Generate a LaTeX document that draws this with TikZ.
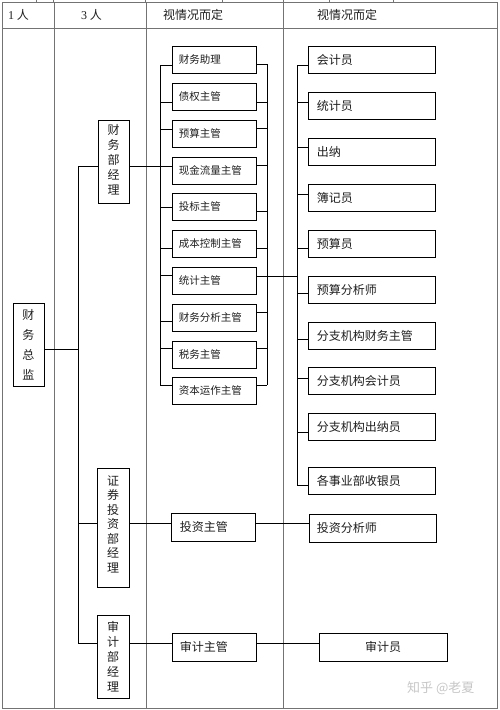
\documentclass[tikz,border=0pt]{standalone}
\usepackage{fontspec}
\setmainfont{Noto Sans CJK SC}
\newfontfamily\serifdigits{Liberation Serif}
\begin{document}
\begin{tikzpicture}[x=1pt,y=-1pt,
  bx/.style={draw=black, line width=0.9pt, inner sep=0pt},
  t3/.style={font=\fontsize{10.5}{12}\selectfont, text=black!88, inner sep=0pt},
  t4/.style={font=\fontsize{12}{14}\selectfont, text=black!88, inner sep=0pt},
  hd/.style={font=\fontsize{12}{14}\selectfont, text=black!88, inner sep=0pt},
  ln/.style={line width=0.8pt, black},
  grid/.style={line width=0.8pt, black!55}]
\useasboundingbox (0,0) rectangle (499,710);
\fill[white] (0,0) rectangle (499,710);

% table
\draw[grid] (2,2) rectangle (497,708);
\draw[grid] (2,28) -- (497,28);
\foreach \x in {54,146,283} \draw[grid] (\x,2) -- (\x,708);
\foreach \x in {36,53,145,222,283,329,393} \draw[grid] (\x,0) -- (\x,2);

% header
\node[hd, anchor=west] (h1) at (8,15) {{\serifdigits 1} 人};
\node[hd, anchor=west] (h2) at (81,15) {{\serifdigits 3} 人};
\node[hd, anchor=west] (h3) at (163,15) {视情况而定};
\node[hd, anchor=west] (h4) at (317,15) {视情况而定};

% trunks
\coordinate (T) at (78,0);
\coordinate (L) at (160,0);
\coordinate (R3) at (267,0);
\coordinate (R4) at (297,0);

% director
\node[bx, minimum width=31pt, minimum height=83pt] (d) at (28.5,344.5) {};
\node[t4, align=center, font=\fontsize{12}{20}\selectfont] (dt) at (d) {财\\务\\总\\监};

% managers
\node[bx, minimum width=31pt, minimum height=83pt] (m1) at (113.5,161.5) {};
\node[t4, align=center, font=\fontsize{12}{15}\selectfont] (m1t) at (113.5,160) {财\\务\\部\\经\\理};
\node[bx, minimum width=32pt, minimum height=119pt] (m2) at (113,527.5) {};
\node[t4, align=center, font=\fontsize{12}{14.5}\selectfont] (m2t) at (113,524) {证\\券\\投\\资\\部\\经\\理};
\node[bx, minimum width=32pt, minimum height=83pt] (m3) at (113,656.5) {};
\node[t4, align=center, font=\fontsize{12}{15}\selectfont] (m3t) at (113,657) {审\\计\\部\\经\\理};

% column 3
\foreach \n/\cy/\txt/\ls/\rs in {
  f1/59.5/财务助理/-5.5/-4.5,
  f2/96.5/债权主管/-5.5/-5.5,
  f3/133.5/预算主管/4.5/5.5,
  f4/170.5/现金流量主管/4.5/5.5,
  f5/206.5/投标主管/-0.5/-4.5,
  f6/243.5/成本控制主管/-4.5/-4.5,
  f7/280.5/统计主管/5.5/4.5,
  f8/317.5/财务分析主管/-3.5/5.5,
  f9/354.5/税务主管/6.5/6.5,
  f10/390.5/资本运作主管/5.5/5.5}{
  \node[bx, minimum width=84pt, minimum height=27pt] (\n) at (214,\cy) {};
  \node[t3, anchor=west] (t\n) at ([xshift=7pt]\n.west) {\txt};
  \coordinate (l\n) at ([yshift=\ls pt]\n.west);
  \coordinate (r\n) at ([yshift=\rs pt]\n.east);
  \draw[ln] (l\n) -- (L |- l\n);
  \draw[ln] (r\n) -- (R3 |- r\n);
}
\draw[ln] (L |- lf1) -- (L |- lf10);
\draw[ln] (R3 |- rf1) -- (R3 |- rf10);

% column 4
\foreach \n/\cy/\txt/\ls in {
  g1/59.5/会计员/-5.5,
  g2/105.5/统计员/3.5,
  g3/151.5/出纳/4.5,
  g4/197.5/簿记员/3.5,
  g5/243.5/预算员/-4.5,
  g6/289.5/预算分析师/-3.5,
  g7/335.5/分支机构财务主管/-3.5,
  g8/380.5/分支机构会计员/2.5,
  g9/426.5/分支机构出纳员/-5.5,
  g10/480.5/各事业部收银员/-4.5}{
  \node[bx, minimum width=127pt, minimum height=27pt] (\n) at (371.5,\cy) {};
  \node[t4, anchor=west] (t\n) at ([xshift=9pt]\n.west) {\txt};
  \coordinate (l\n) at ([yshift=\ls pt]\n.west);
  \draw[ln] (l\n) -- (R4 |- l\n);
}
\draw[ln] (R4 |- lg1) -- (R4 |- lg10);
\draw[ln] (rf7) -- (R4 |- rf7);

% investment / audit
\node[bx, minimum width=84pt, minimum height=28pt] (i1) at (213,527) {};
\node[t4, anchor=west] (ti1) at ([xshift=9pt]i1.west) {投资主管};
\node[bx, minimum width=127pt, minimum height=28pt] (i2) at (372.5,528) {};
\node[t4, anchor=west] (ti2) at ([xshift=8pt]i2.west) {投资分析师};
\node[bx, minimum width=84pt, minimum height=28pt] (a1) at (214,647) {};
\node[t4, anchor=west] (ta1) at ([xshift=8pt]a1.west) {审计主管};
\node[bx, minimum width=128pt, minimum height=28pt] (a2) at (383,647) {};
\node[t4] (ta2) at (a2) {审计员};

% main connectors
\coordinate (dr) at ([yshift=-4.5pt]d.east);
\coordinate (m1l) at ([yshift=-4.5pt]m1.west);
\coordinate (m1r) at ([yshift=-4.5pt]m1.east);
\coordinate (m2l) at ([yshift=4.5pt]m2.west);
\coordinate (m2r) at ([yshift=4.5pt]m2.east);
\coordinate (m3l) at ([yshift=13.5pt]m3.west);
\coordinate (m3r) at ([yshift=13.5pt]m3.east);
\coordinate (i1l) at ([yshift=4pt]i1.west);
\coordinate (i1r) at ([yshift=4pt]i1.east);
\coordinate (i2l) at ([yshift=5pt]i2.west);
\coordinate (a1l) at ([yshift=4pt]a1.west);
\coordinate (a1r) at ([yshift=4pt]a1.east);
\coordinate (a2l) at ([yshift=4pt]a2.west);
\draw[ln] (dr) -- (T |- dr);
\draw[ln] (T |- m1l) -- (T |- m3l);
\draw[ln] (T |- m1l) -- (m1l);
\draw[ln] (T |- m2l) -- (m2l);
\draw[ln] (T |- m3l) -- (m3l);
\draw[ln] (m1r) -- (lf4);
\draw[ln] (m2r) -- (i1l);
\draw[ln] (i1r) -- (i2l);
\draw[ln] (m3r) -- (a1l);
\draw[ln] (a1r) -- (a2l);

% watermark
\node[anchor=west, text=black!22, font=\fontsize{13}{15}\selectfont, inner sep=0pt] (wm) at (407,688) {知乎 @老夏};
\end{tikzpicture}
\end{document}
